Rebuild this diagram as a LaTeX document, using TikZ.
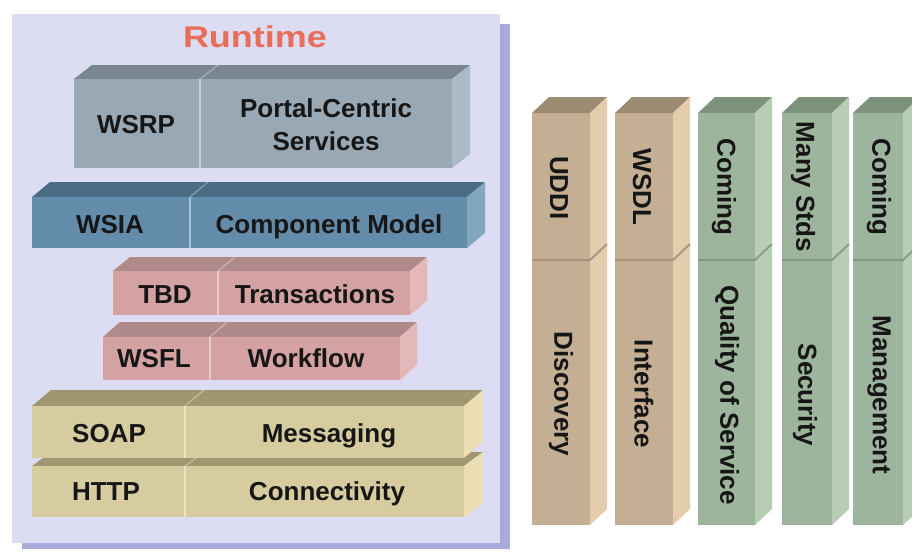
\documentclass[tikz,border=0pt]{standalone}
\usepackage{graphicx}
\usepackage{fontspec}
\setmainfont{Liberation Sans}
\definecolor{panel}{HTML}{DCDCF2}
\definecolor{panelshadow}{HTML}{A9A9DA}
\definecolor{runtimec}{HTML}{E86E5A}
\definecolor{txt}{HTML}{161616}
% blue-grey
\definecolor{bgF}{HTML}{98A8B4}\definecolor{bgT}{HTML}{7A8690}\definecolor{bgS}{HTML}{AABAC6}
% steel blue
\definecolor{sbF}{HTML}{628CAA}\definecolor{sbT}{HTML}{4A6C84}\definecolor{sbS}{HTML}{82A6C0}
% pink
\definecolor{pkF}{HTML}{D4A2A2}\definecolor{pkT}{HTML}{B08A8A}\definecolor{pkS}{HTML}{E4B8B8}
% khaki
\definecolor{khF}{HTML}{D6CCA0}\definecolor{khT}{HTML}{A09670}\definecolor{khS}{HTML}{EADEB2}
% tan
\definecolor{tnF}{HTML}{C4AE94}\definecolor{tnT}{HTML}{9C8B73}\definecolor{tnS}{HTML}{E4CDAC}
% green
\definecolor{grF}{HTML}{9DB49D}\definecolor{grT}{HTML}{7D927B}\definecolor{grS}{HTML}{B8CEB4}
% #1 x1, #2 xd (divider), #3 x2, #4 y1 (front top), #5 y2 (front bottom), #6 dx, #7 dy, #8 colour prefix
\newcommand\hslab[8]{%
  \fill[#8T] (#1,#4) -- ({#1+#6},{#4-#7}) -- ({#3+#6},{#4-#7}) -- (#3,#4) -- cycle;
  \fill[#8S] (#3,#4) -- ({#3+#6},{#4-#7}) -- ({#3+#6},{#5-#7}) -- (#3,#5) -- cycle;
  \fill[#8F] (#1,#4) rectangle (#3,#5);
  \draw[white,opacity=0.45,line width=1.6pt] (#2,#4) -- (#2,#5);
  \draw[white,opacity=0.35,line width=1.2pt] (#2,#4) -- ({#2+#6},{#4-#7});
}
% #1 a, #2 b, #3 colour prefix
\newcommand\vpillar[3]{%
  \fill[#3T] (#1,113) -- ({#1+17},97) -- ({#2+17},97) -- (#2,113) -- cycle;
  \fill[#3S] (#2,113) -- ({#2+17},97) -- ({#2+17},509) -- (#2,525) -- cycle;
  \fill[#3F] (#1,113) rectangle (#2,525);
  \draw[#3T,opacity=0.8,line width=2pt] (#1,260) -- (#2,260) -- ({#2+17},244);
}
\begin{document}
\begin{tikzpicture}[x=1pt,y=-1pt,
  lbl/.style={font=\bfseries\fontsize{26}{31}\selectfont, text=txt, inner sep=0pt, anchor=base},
  plbl/.style={font=\bfseries\fontsize{26}{31}\selectfont, text=txt, inner sep=0pt, rotate=-90}]
\useasboundingbox (0,0) rectangle (912,551);
\fill[white] (0,0) rectangle (912,551);
% Runtime panel
\fill[panelshadow] (22,24) rectangle (510,549);
\fill[panel] (12,14) rectangle (500,543);
\node[font=\bfseries\fontsize{30}{36}\selectfont, text=runtimec, inner sep=0pt, anchor=base] (runtime) at (255,48) {\scalebox{1.2}[1]{Runtime}};
% stacked blocks
\hslab{74}{200}{452}{79}{168}{18}{14}{bg}
\hslab{32}{190}{467}{197}{248}{18}{15}{sb}
\hslab{113}{218}{410}{271}{315}{17}{14}{pk}
\hslab{103}{210}{400}{337}{380}{17}{15}{pk}
\hslab{32}{185}{464}{466}{517}{19}{14}{kh}
\hslab{32}{185}{464}{406}{458}{19}{16}{kh}
\node[lbl] (wsrp) at (136,133) {WSRP};
\node[lbl] (portal) at (326,117) {Portal-Centric};
\node[lbl] (services) at (326,150) {Services};
\node[lbl] (wsia) at (110,233) {WSIA};
\node[lbl] (component) at (329,233) {Component Model};
\node[lbl] (tbd) at (165,303) {TBD};
\node[lbl] (transactions) at (315,303) {Transactions};
\node[lbl] (wsfl) at (154,367) {WSFL};
\node[lbl] (workflow) at (306,367) {Workflow};
\node[lbl] (soap) at (109,442) {SOAP};
\node[lbl] (messaging) at (329,442) {Messaging};
\node[lbl] (http) at (106,500) {HTTP};
\node[lbl] (connectivity) at (327,500) {Connectivity};
% pillars
\vpillar{532}{590}{tn}
\vpillar{615}{673}{tn}
\vpillar{698}{755}{gr}
\vpillar{782}{832}{gr}
\vpillar{853}{903}{gr}
\node[plbl] (uddi) at (559,188) {UDDI};
\node[plbl] (wsdl) at (642,187) {WSDL};
\node[plbl] (coming1) at (724,187) {Coming};
\node[plbl] (manystds) at (803,187) {Many Stds};
\node[plbl] (coming2) at (879,187) {Coming};
\node[plbl] (discovery) at (561,394) {Discovery};
\node[plbl] (interface) at (644,394) {Interface};
\node[plbl] (qos) at (727,395) {Quality of Service};
\node[plbl] (security) at (805,395) {Security};
\node[plbl] (management) at (879,395) {Management};
\end{tikzpicture}
\end{document}
